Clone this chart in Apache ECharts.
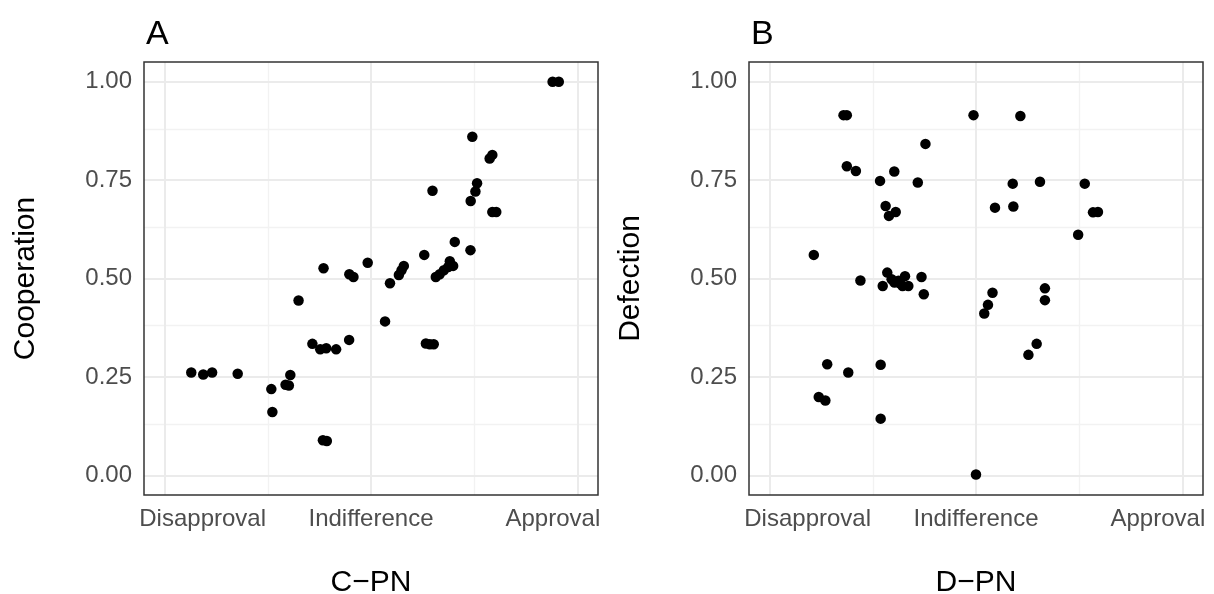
<!DOCTYPE html>
<html>
<head>
<meta charset="utf-8">
<title>C-PN and D-PN</title>
<script src="https://cdn.jsdelivr.net/npm/echarts@6/dist/echarts.min.js"></script>
<style>
  html, body { margin: 0; padding: 0; background: #fff; }
  #chart { width: 1214px; height: 594px; }
</style>
</head>
<body>
<div id="chart"></div>
<script>
// Panel A: cooperation vs perceived norm for cooperators (C-PN), -1 = disapproval, 1 = approval
const cpn = [-0.871, -0.813, -0.770, -0.646, -0.483, -0.478, -0.414, -0.398, -0.391, -0.351,
  -0.284, -0.246, -0.217, -0.169, -0.106, -0.233, -0.214, -0.230, -0.105, -0.085,
  -0.016, 0.068, 0.092, 0.135, 0.148, 0.159, 0.258, 0.266, 0.285, 0.304,
  0.298, 0.314, 0.333, 0.353, 0.374, 0.382, 0.398, 0.406, 0.482, 0.483,
  0.506, 0.514, 0.491, 0.575, 0.588, 0.588, 0.607, 0.880, 0.910];
const cooperation = [0.261, 0.256, 0.261, 0.258, 0.219, 0.161, 0.230, 0.228, 0.255, 0.444,
  0.334, 0.320, 0.323, 0.320, 0.344, 0.089, 0.087, 0.526, 0.511, 0.504,
  0.540, 0.391, 0.488, 0.509, 0.521, 0.532, 0.560, 0.335, 0.333, 0.333,
  0.723, 0.504, 0.511, 0.521, 0.529, 0.544, 0.532, 0.593, 0.572, 0.697,
  0.721, 0.742, 0.860, 0.805, 0.814, 0.669, 0.669, 1.000, 1.000];

// Panel B: defection vs perceived norm for defectors (D-PN)
const dpn = [-0.642, -0.626, -0.012, 0.215, -0.245, -0.626, -0.582, -0.465, -0.396, -0.282,
  -0.438, -0.389, -0.422, -0.786, 0.178, 0.310, 0.527, 0.092, 0.181, 0.567,
  0.591, 0.495, -0.560, -0.430, -0.452, -0.409, -0.376, -0.344, -0.356, -0.328,
  -0.264, -0.253, -0.395, -0.367, -0.721, -0.619, -0.462, -0.762, -0.730, -0.462,
  0.000, 0.080, 0.058, 0.040, 0.334, 0.334, 0.294, 0.254];
const defection = [0.915, 0.915, 0.915, 0.913, 0.842, 0.785, 0.773, 0.748, 0.772, 0.744,
  0.684, 0.669, 0.659, 0.560, 0.741, 0.746, 0.741, 0.680, 0.683, 0.668,
  0.669, 0.611, 0.495, 0.515, 0.481, 0.498, 0.494, 0.506, 0.481, 0.481,
  0.504, 0.460, 0.490, 0.487, 0.282, 0.261, 0.281, 0.199, 0.190, 0.144,
  0.002, 0.464, 0.433, 0.411, 0.475, 0.445, 0.334, 0.306];

// Axis ticks
const xTickValues = [-1, 0, 1];
const xTickLabels = ['Disapproval', 'Indifference', 'Approval'];
const xMinorValues = [-0.5, 0.5];
const yTickValues = [0, 0.25, 0.5, 0.75, 1];
const yMinorValues = [0.125, 0.375, 0.625, 0.875];

const FONT = '"Liberation Sans", Arial, sans-serif';
const pair = (xs, ys) => xs.map((x, i) => [x, ys[i]]);

function xAxisFor(gridIndex, title) {
  return {
    type: 'value', gridIndex, min: -1.1, max: 1.1,
    name: title, nameLocation: 'middle', nameGap: 73,
    nameTextStyle: { fontFamily: FONT, fontSize: 30, color: '#000' },
    axisLine: { show: false },
    splitLine: { show: false },
    axisTick: { show: true, customValues: xTickValues, length: 6, lineStyle: { color: '#333', width: 1.5 } },
    axisLabel: {
      customValues: xTickValues, margin: 12,
      fontFamily: FONT, fontSize: 24, color: '#4d4d4d',
      formatter: v => {
        const i = xTickValues.indexOf(v);
        if (i === 0) return '{lo|' + xTickLabels[i] + '}';
        if (i === 2) return '{hi|' + xTickLabels[i] + '}';
        return xTickLabels[i];
      },
      rich: {
        lo: { fontFamily: FONT, fontSize: 24, color: '#4d4d4d', padding: [0, 0, 0, 76] },
        hi: { fontFamily: FONT, fontSize: 24, color: '#4d4d4d', padding: [0, 49, 0, 0] }
      }
    }
  };
}

function yAxisFor(gridIndex, title) {
  return {
    type: 'value', gridIndex, min: -0.05, max: 1.05,
    name: title, nameLocation: 'middle', nameGap: 103,
    nameTextStyle: { fontFamily: FONT, fontSize: 30, color: '#000' },
    axisLine: { show: false },
    splitLine: { show: false },
    axisTick: { show: true, customValues: yTickValues, length: 6, lineStyle: { color: '#333', width: 1.5 } },
    axisLabel: {
      customValues: yTickValues, margin: 12,
      fontFamily: FONT, fontSize: 24, color: '#4d4d4d',
      formatter: v => v.toFixed(2)
    }
  };
}

// Panel background grid, drawn as mark lines on the panel's own axes
function gridLines(idx) {
  const major = { color: '#ebebeb', width: 2, type: 'solid' };
  const minor = { color: '#f2f2f2', width: 1.3, type: 'solid' };
  const data = []
    .concat(xMinorValues.map(v => ({ xAxis: v, lineStyle: minor })))
    .concat(yMinorValues.map(v => ({ yAxis: v, lineStyle: minor })))
    .concat(xTickValues.map(v => ({ xAxis: v, lineStyle: major })))
    .concat(yTickValues.map(v => ({ yAxis: v, lineStyle: major })));
  return {
    type: 'scatter', xAxisIndex: idx, yAxisIndex: idx, data: [], z: 1, silent: true,
    markLine: { z: 1, silent: true, symbol: ['none', 'none'], label: { show: false }, animation: false, data }
  };
}

function points(idx, data) {
  return {
    type: 'scatter', xAxisIndex: idx, yAxisIndex: idx, data, z: 3,
    symbol: 'circle', symbolSize: 10.5, itemStyle: { color: '#000', opacity: 1 },
    animation: false
  };
}

const panelGrid = left => ({
  left, top: 62, width: 454, height: 433,
  outerBoundsMode: 'none', containLabel: false,
  show: true, z: 10, backgroundColor: 'transparent', borderColor: '#333', borderWidth: 1.5
});

const chart = echarts.init(document.getElementById('chart'), null, { renderer: 'canvas' });
chart.setOption({
  backgroundColor: '#fff',
  animation: false,
  textStyle: { fontFamily: FONT },
  title: [
    { text: 'A', left: 141, top: 13, textStyle: { fontFamily: FONT, fontSize: 34, fontWeight: 'normal', color: '#000' } },
    { text: 'B', left: 746, top: 13, textStyle: { fontFamily: FONT, fontSize: 34, fontWeight: 'normal', color: '#000' } }
  ],
  grid: [panelGrid(144), panelGrid(749)],
  xAxis: [xAxisFor(0, 'C\u2212PN'), xAxisFor(1, 'D\u2212PN')],
  yAxis: [yAxisFor(0, 'Cooperation'), yAxisFor(1, 'Defection')],
  series: [
    gridLines(0), gridLines(1),
    points(0, pair(cpn, cooperation)),
    points(1, pair(dpn, defection))
  ]
});
</script>
</body>
</html>
